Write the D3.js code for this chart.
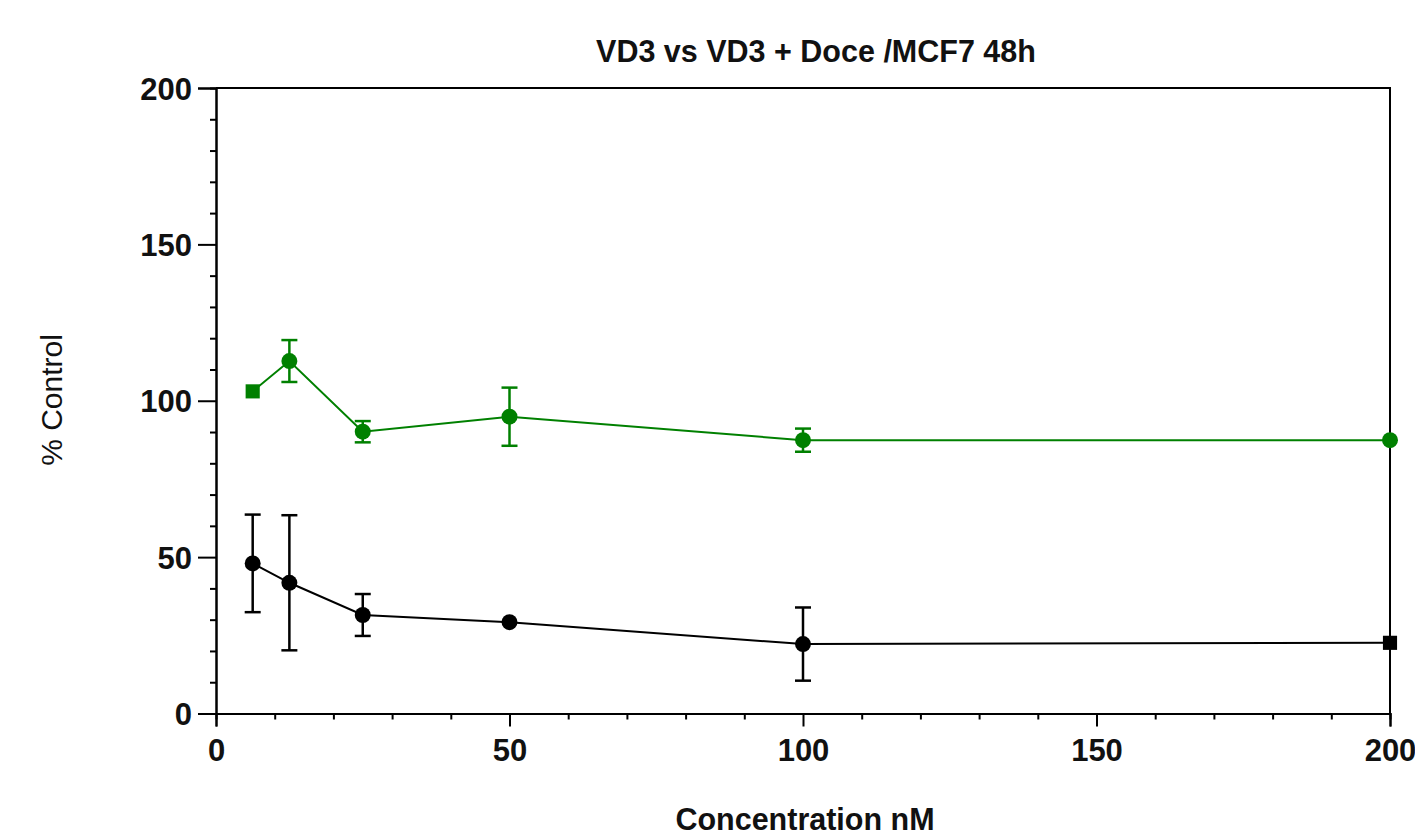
<!DOCTYPE html>
<html>
<head>
<meta charset="utf-8">
<script src="https://cdn.jsdelivr.net/npm/d3@7/dist/d3.min.js"></script>
<style>
  html, body { margin: 0; padding: 0; background: #fff; }
  svg { display: block; }
  text { font-family: "Liberation Sans", Arial, sans-serif; fill: #111; }
</style>
</head>
<body>
<svg id="chart" width="1415" height="839"></svg>
<script>
// ---- data ----
const title = "VD3 vs VD3 + Doce /MCF7 48h";
const xLabel = "Concentration nM";
const yLabel = "% Control";
const concentrations = [6.25, 12.5, 25, 50, 100, 200];
const greenMean = [103, 112.7, 90.1, 94.9, 87.4, 87.4];
const greenErr  = [0, 6.7, 3.4, 9.3, 3.7, 0];
const blackMean = [48.0, 41.8, 31.5, 29.2, 22.2, 22.6];
const blackErr  = [15.6, 21.6, 6.7, 0, 11.7, 0];
const greenShapes = ["square", "circle", "circle", "circle", "circle", "circle"];
const blackShapes = ["circle", "circle", "circle", "circle", "circle", "square"];
const xTicks = [0, 50, 100, 150, 200];
const yTicks = [0, 50, 100, 150, 200];

// ---- layout ----
const svg = d3.select("#chart");
const L = 216, R = 1390, T = 88, B = 713.5;
const x = d3.scaleLinear().domain([0, 200]).range([L, R]);
const y = d3.scaleLinear().domain([0, 200]).range([B, T]);

// frame (top & right)
svg.append("path")
  .attr("d", `M${L},${T}H${R}V${B}`)
  .attr("fill", "none").attr("stroke", "#000").attr("stroke-width", 2);

// minor ticks
const minorX = d3.range(0, 201, 10).filter(v => v % 50 !== 0);
const minorY = d3.range(0, 201, 10).filter(v => v % 50 !== 0);

const xAxisMinor = d3.axisBottom(x).tickValues(minorX).tickSize(6).tickFormat("");
const yAxisMinor = d3.axisLeft(y).tickValues(minorY).tickSize(6).tickFormat("");
const xAxis = d3.axisBottom(x).tickValues(xTicks).tickSize(13).tickPadding(12).tickFormat(d3.format("d"));
const yAxis = d3.axisLeft(y).tickValues(yTicks).tickSize(18).tickPadding(6).tickFormat(d3.format("d"));

function styleAxis(g) {
  g.select(".domain").attr("stroke", "#000").attr("stroke-width", 2);
  g.selectAll(".tick line").attr("stroke", "#000").attr("stroke-width", 2);
  g.selectAll(".tick text")
    .attr("font-family", "Liberation Sans, Arial, sans-serif")
    .attr("font-size", 31).attr("font-weight", "bold").attr("fill", "#111");
}

svg.append("g").attr("transform", `translate(0,${B})`).call(xAxisMinor).call(styleAxis);
svg.append("g").attr("transform", `translate(${L},0)`).call(yAxisMinor).call(styleAxis);
const gx = svg.append("g").attr("transform", `translate(0,${B})`).call(xAxis).call(styleAxis);
const gy = svg.append("g").attr("transform", `translate(${L},0)`).call(yAxis).call(styleAxis);
gy.selectAll(".tick text").attr("dy", "0.36em");

// series
function drawSeries(means, errs, shapes, color) {
  const pts = concentrations.map((c, i) => ({ x: c, y: means[i], e: errs[i], s: shapes[i] }));
  const g = svg.append("g");
  g.append("path")
    .datum(pts)
    .attr("d", d3.line().x(d => x(d.x)).y(d => y(d.y)))
    .attr("fill", "none").attr("stroke", color).attr("stroke-width", 2);
  const eb = g.selectAll(".eb").data(pts.filter(d => d.e > 0)).enter().append("g");
  eb.append("line")
    .attr("x1", d => x(d.x)).attr("x2", d => x(d.x))
    .attr("y1", d => y(d.y - d.e)).attr("y2", d => y(d.y + d.e))
    .attr("stroke", color).attr("stroke-width", 2.5);
  [1, -1].forEach(sgn => {
    eb.append("line")
      .attr("x1", d => x(d.x) - 8).attr("x2", d => x(d.x) + 8)
      .attr("y1", d => y(d.y + sgn * d.e)).attr("y2", d => y(d.y + sgn * d.e))
      .attr("stroke", color).attr("stroke-width", 2.5);
  });
  g.selectAll(".m").data(pts).enter().append("path")
    .attr("transform", d => `translate(${x(d.x)},${y(d.y)})`)
    .attr("d", d => d.s === "square"
      ? d3.symbol(d3.symbolSquare, 200)()
      : d3.symbol(d3.symbolCircle, 200)())
    .attr("fill", color);
}
drawSeries(greenMean, greenErr, greenShapes, "#008000");
drawSeries(blackMean, blackErr, blackShapes, "#000000");

// title & labels
svg.append("text").attr("x", 816).attr("y", 62).attr("text-anchor", "middle")
  .attr("font-size", 30.5).attr("font-weight", "bold").text(title);
svg.append("text").attr("x", 805).attr("y", 830).attr("text-anchor", "middle")
  .attr("font-size", 30.5).attr("font-weight", "bold").text(xLabel);
svg.append("text").attr("transform", "translate(62,400) rotate(-90)").attr("text-anchor", "middle")
  .attr("font-size", 30).text(yLabel);
</script>
</body>
</html>
